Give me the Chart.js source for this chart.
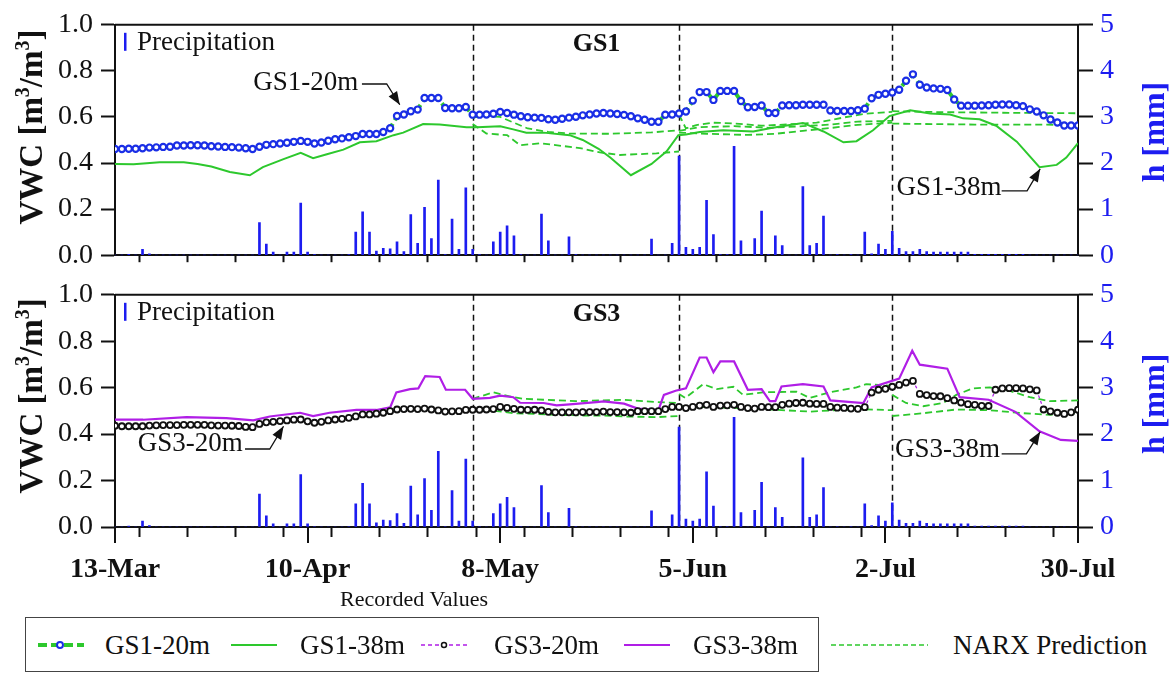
<!DOCTYPE html>
<html>
<head>
<meta charset="utf-8">
<script src="https://cdn.jsdelivr.net/npm/chart.js@4.4.0/dist/chart.umd.min.js"></script>
<style>
  body { margin: 0; background: #fff; }
  #wrap { position: relative; width: 1175px; height: 673px; overflow: hidden; font-family: "Liberation Serif", "Times New Roman", serif; color: #111; }
  canvas { position: absolute; left: 0; }
  #topChart { top: 0; }
  #bottomChart { top: 270px; }
  #recorded { position: absolute; left: 340px; top: 586px; font-size: 22px; line-height: 26px; }
  .legend-box { position: absolute; left: 25px; top: 617px; width: 794px; height: 55px; border: 1.5px solid #444; box-sizing: border-box; }
  .lg { position: absolute; top: 629px; font-size: 27px; line-height: 32px; white-space: nowrap; }
  .sw { position: absolute; top: 636px; }
  .pre { position: absolute; left: -200px; top: 0; }
  .pre b { font-weight: bold; }
</style>
</head>
<body>
<div id="wrap">
  <canvas id="topChart" width="1175" height="280"></canvas>
  <canvas id="bottomChart" width="1175" height="340"></canvas>
  <div id="recorded">Recorded Values</div>
  <div class="legend-box"></div>
  <svg class="sw" style="left:38px" width="46" height="18"><line x1="0" y1="9" x2="46" y2="9" stroke="#2dc82d" stroke-width="4" stroke-dasharray="9 4"/><circle cx="22" cy="9" r="3" fill="#fff" stroke="#1a2ee6" stroke-width="2"/></svg>
  <div class="lg" style="left:105px">GS1-20m</div>
  <svg class="sw" style="left:231px" width="46" height="18"><line x1="0" y1="9" x2="46" y2="9" stroke="#2dc82d" stroke-width="2"/></svg>
  <div class="lg" style="left:300px">GS1-38m</div>
  <svg class="sw" style="left:421px" width="46" height="18"><line x1="0" y1="9" x2="46" y2="9" stroke="#b01ee6" stroke-width="1.5" stroke-dasharray="4 3"/><circle cx="23" cy="9" r="2.5" fill="#fff" stroke="#111" stroke-width="1.5"/></svg>
  <div class="lg" style="left:494px">GS3-20m</div>
  <svg class="sw" style="left:624px" width="46" height="18"><line x1="0" y1="9" x2="46" y2="9" stroke="#b01ee6" stroke-width="2"/></svg>
  <div class="lg" style="left:693px">GS3-38m</div>
  <svg class="sw" style="left:831px" width="97" height="18"><line x1="0" y1="9" x2="97" y2="9" stroke="#2dc82d" stroke-width="1.5" stroke-dasharray="5 3"/></svg>
  <div class="lg" style="left:953px">NARX Prediction</div>
  <div class="pre">0 <b>0</b></div>
</div>
<script>
// x values are days after 13-Mar; dates shown every 28 days
const dateLabels = ['13-Mar', '10-Apr', '8-May', '5-Jun', '2-Jul', '30-Jul'];
const periodBreaks = [52, 82, 113];

// daily precipitation h [mm], same record under both panels
const precip = [
  0, 0, 0.02, 0, 0.125, 0.03, 0,
  0, 0, 0, 0, 0, 0, 0,
  0, 0, 0, 0, 0, 0, 0,
  0.71, 0.24, 0.07, 0, 0.07, 0.07, 1.13,
  0.07, 0.01, 0, 0, 0, 0, 0.01,
  0.5, 0.94, 0.5, 0.09, 0.15, 0.14, 0.29,
  0.08, 0.88, 0.26, 1.04, 0.36, 1.63, 0.01,
  0.785, 0.125, 1.46, 0.125, 0.01, 0, 0.29,
  0.5, 0.64, 0.42, 0.01, 0, 0, 0.89,
  0.31, 0, 0, 0.4, 0.01, 0, 0,
  0, 0, 0, 0, 0, 0, 0,
  0, 0.35, 0, 0, 0.26, 2.15, 0.17,
  0.125, 0.17, 1.19, 0.45, 0.01, 0.01, 2.36,
  0.31, 0, 0.36, 0.96, 0.01, 0.42, 0.21,
  0, 0, 1.49, 0.21, 0.26, 0.85, 0,
  0.01, 0, 0.01, 0, 0.5, 0.03, 0.24,
  0.125, 0.52, 0.15, 0.08, 0.08, 0.125, 0.08,
  0.07, 0.07, 0.07, 0.07, 0.07, 0.07, 0.02,
  0.02, 0.02, 0.02, 0.02, 0.02, 0.02, 0.02,
  0, 0, 0, 0, 0, 0, 0,
  0
];

// GS1-20m daily VWC
const gs1Shallow = [
  0.461, 0.461, 0.462, 0.462, 0.464, 0.467, 0.468,
  0.470, 0.471, 0.476, 0.476, 0.477, 0.477, 0.476,
  0.473, 0.472, 0.470, 0.469, 0.467, 0.464, 0.461,
  0.471, 0.479, 0.482, 0.485, 0.488, 0.492, 0.496,
  0.492, 0.485, 0.489, 0.497, 0.503, 0.507, 0.512,
  0.517, 0.526, 0.526, 0.526, 0.535, 0.551, 0.604,
  0.611, 0.625, 0.632, 0.682, 0.682, 0.682, 0.639,
  0.638, 0.638, 0.643, 0.610, 0.610, 0.611, 0.614,
  0.622, 0.617, 0.610, 0.603, 0.599, 0.597, 0.596,
  0.590, 0.588, 0.592, 0.597, 0.601, 0.607, 0.611,
  0.615, 0.617, 0.615, 0.613, 0.609, 0.603, 0.594,
  0.588, 0.579, 0.579, 0.610, 0.611, 0.615, 0.624,
  0.671, 0.708, 0.708, 0.674, 0.713, 0.713, 0.713,
  0.669, 0.642, 0.643, 0.650, 0.617, 0.617, 0.650,
  0.651, 0.651, 0.653, 0.653, 0.653, 0.653, 0.628,
  0.626, 0.626, 0.626, 0.629, 0.636, 0.681, 0.696,
  0.701, 0.706, 0.718, 0.757, 0.785, 0.740, 0.728,
  0.724, 0.722, 0.717, 0.676, 0.649, 0.649, 0.649,
  0.650, 0.651, 0.653, 0.654, 0.654, 0.651, 0.647,
  0.633, 0.624, 0.607, 0.589, 0.576, 0.563, 0.563,
  0.563
];

// GS3-20m daily VWC
const gs3Shallow = [
  0.436, 0.434, 0.434, 0.434, 0.434, 0.437, 0.438,
  0.439, 0.439, 0.439, 0.440, 0.440, 0.440, 0.440,
  0.438, 0.437, 0.437, 0.436, 0.435, 0.431, 0.430,
  0.444, 0.451, 0.453, 0.456, 0.459, 0.462, 0.463,
  0.455, 0.449, 0.453, 0.459, 0.463, 0.466, 0.470,
  0.476, 0.485, 0.485, 0.488, 0.492, 0.499, 0.506,
  0.508, 0.509, 0.508, 0.510, 0.506, 0.502, 0.497,
  0.498, 0.499, 0.504, 0.505, 0.505, 0.506, 0.508,
  0.517, 0.513, 0.509, 0.505, 0.504, 0.505, 0.502,
  0.496, 0.494, 0.494, 0.494, 0.494, 0.495, 0.495,
  0.495, 0.497, 0.495, 0.495, 0.494, 0.492, 0.499,
  0.499, 0.499, 0.499, 0.508, 0.517, 0.517, 0.512,
  0.517, 0.523, 0.526, 0.517, 0.523, 0.524, 0.526,
  0.517, 0.512, 0.510, 0.517, 0.516, 0.516, 0.526,
  0.531, 0.534, 0.535, 0.531, 0.530, 0.530, 0.517,
  0.514, 0.513, 0.510, 0.509, 0.516, 0.579, 0.591,
  0.595, 0.604, 0.612, 0.622, 0.629, 0.573, 0.568,
  0.564, 0.563, 0.555, 0.545, 0.536, 0.529, 0.526,
  0.522, 0.521, 0.591, 0.597, 0.598, 0.598, 0.597,
  0.593, 0.588, 0.506, 0.498, 0.492, 0.487, 0.494,
  0.505
];

// deep sensors, [day, VWC] at the line's turning points
const gs1Deep = [
  [0, 0.396], [2.7, 0.395], [6.5, 0.403], [10, 0.403], [12, 0.396], [14, 0.385], [16.7, 0.361],
  [19.6, 0.347], [21.5, 0.382], [24.5, 0.417], [27, 0.444], [28.8, 0.421], [30.8, 0.438],
  [33.2, 0.458], [35.6, 0.49], [38, 0.495], [40.5, 0.521], [41.9, 0.532], [44.8, 0.569],
  [47.2, 0.567], [51.1, 0.555], [52.6, 0.555], [56, 0.56], [57.9, 0.546], [59.8, 0.532],
  [62.3, 0.532], [66.1, 0.521], [68, 0.5], [70.3, 0.462], [72, 0.424], [75, 0.347], [78, 0.396],
  [80.2, 0.451], [81.9, 0.521], [83, 0.524], [85, 0.535], [88.4, 0.542], [92.8, 0.537],
  [95.2, 0.551], [98.1, 0.565], [100, 0.574], [103, 0.537], [105.9, 0.49], [107.8, 0.495],
  [110.2, 0.542], [112.6, 0.604], [115.6, 0.629], [118.5, 0.615], [121.4, 0.611], [123.3, 0.594],
  [125.7, 0.59], [128.1, 0.562], [131.1, 0.493], [134.4, 0.382], [136.9, 0.392], [138.3, 0.424],
  [140, 0.486]
];
const gs3Deep = [
  [0, 0.462], [4.1, 0.462], [10.4, 0.473], [16.2, 0.469], [20.1, 0.459], [22.5, 0.476],
  [26.9, 0.492], [28.8, 0.478], [31.2, 0.492], [35.1, 0.504], [38, 0.504], [40, 0.515],
  [40.9, 0.58], [42.9, 0.594], [44.1, 0.597], [45.1, 0.65], [47.2, 0.646], [48.1, 0.591],
  [50.9, 0.591], [52, 0.552], [54.5, 0.556], [56, 0.566], [57.9, 0.559], [58.9, 0.535],
  [62.3, 0.534], [64.2, 0.524], [66.1, 0.528], [70, 0.538], [71, 0.541], [74, 0.531], [76, 0.51],
  [79, 0.503], [79.8, 0.569], [81.5, 0.587], [83, 0.597], [85, 0.73], [86, 0.73], [87, 0.667],
  [88, 0.713], [90, 0.713], [92, 0.591], [94, 0.594], [95.2, 0.542], [96, 0.542], [96.9, 0.605],
  [100, 0.615], [103, 0.605], [104, 0.545], [108.8, 0.534], [110, 0.601], [114, 0.639],
  [115.9, 0.759], [117, 0.699], [121, 0.682], [122.8, 0.559], [127, 0.548], [130.9, 0.496],
  [134.4, 0.412], [137.5, 0.375], [140, 0.371]
];

// NARX predictions, one line per forecast run
const gs1Narx = [
  [[52, 0.597], [54, 0.605], [56, 0.6], [58, 0.575], [60, 0.55], [63, 0.535], [66, 0.528], [72, 0.527], [78, 0.533], [82, 0.542]],
  [[52, 0.569], [54, 0.528], [57, 0.521], [58.9, 0.477], [61.8, 0.486], [63.7, 0.479], [67.6, 0.465], [70.5, 0.446], [73.4, 0.435], [78.7, 0.442], [82, 0.45]],
  [[82, 0.61], [83, 0.55], [84.5, 0.565], [87, 0.575], [90, 0.572], [94, 0.562], [98, 0.568], [102, 0.575], [106, 0.598], [109, 0.614], [113, 0.622]],
  [[82, 0.54], [85, 0.556], [90, 0.56], [95, 0.553], [100, 0.56], [104, 0.567], [108, 0.58], [113, 0.583]],
  [[82, 0.532], [86, 0.527], [92, 0.522], [96, 0.527], [100, 0.54], [104, 0.552], [108, 0.566], [113, 0.575]],
  [[113, 0.625], [120, 0.621], [130, 0.618], [140, 0.616]],
  [[113, 0.571], [125, 0.567], [140, 0.566]]
];
const gs3Narx = [
  [[52, 0.552], [55, 0.58], [57.5, 0.562], [59.4, 0.552], [62.3, 0.548], [67, 0.542], [70.5, 0.545], [74, 0.548], [78.7, 0.538], [82, 0.534]],
  [[52, 0.505], [55, 0.501], [58, 0.49], [61, 0.487], [64.5, 0.483], [68, 0.48], [71, 0.48], [74, 0.476], [78.7, 0.473], [82, 0.478]],
  [[82, 0.573], [82.9, 0.556], [85.5, 0.615], [87.5, 0.594], [89.9, 0.604], [91.3, 0.569], [94.2, 0.58], [99.1, 0.583], [101, 0.556], [103.9, 0.58], [107.8, 0.601], [109.2, 0.615], [113, 0.608]],
  [[82, 0.52], [88, 0.515], [94, 0.508], [101, 0.497], [108, 0.508], [113, 0.503]],
  [[113, 0.569], [115, 0.534], [117.5, 0.52], [120.4, 0.534], [122.3, 0.569], [124.7, 0.597], [127.2, 0.601], [130, 0.587], [133, 0.559], [135.9, 0.542], [140, 0.545]],
  [[113, 0.478], [117.5, 0.49], [122.3, 0.506], [127.2, 0.503], [132, 0.49], [135.9, 0.483], [140, 0.49]]
];

const GREEN = '#2dc82d';
const MAGENTA = '#b01ee6';
const BLUE = '#1c1cf0';
const SERIF = '"Liberation Serif", "Times New Roman", serif';

const daily = vals => vals.map((y, x) => ({ x, y }));
const toXY = pts => pts.map(([x, y]) => ({ x, y }));

function narxSets(segments) {
  return segments.map(seg => ({
    label: 'NARX Prediction', data: toXY(seg), borderColor: GREEN, borderWidth: 1.8,
    borderDash: [7, 4], pointRadius: 0, yAxisID: 'y'
  }));
}

function precipSet() {
  return {
    type: 'bar', label: 'Precipitation', data: daily(precip), yAxisID: 'yh',
    backgroundColor: BLUE, barThickness: 2, borderWidth: 0
  };
}

// rotated axis title drawn in pieces so the 3s sit as superscripts
function drawRotatedTitle(ctx, parts, baseX, centerY, size, color) {
  ctx.save();
  ctx.fillStyle = color;
  ctx.textBaseline = 'alphabetic';
  ctx.textAlign = 'left';
  const supSize = Math.round(size * 0.62);
  let total = 0;
  parts.forEach(p => {
    ctx.font = 'bold ' + (p.sup ? supSize : size) + 'px ' + SERIF;
    p.w = ctx.measureText(p.t).width;
    total += p.w;
  });
  ctx.translate(baseX, centerY);
  ctx.rotate(-Math.PI / 2);
  let cx = -total / 2;
  parts.forEach(p => {
    ctx.font = 'bold ' + (p.sup ? supSize : size) + 'px ' + SERIF;
    ctx.fillText(p.t, cx, p.sup ? -size * 0.38 : 0);
    cx += p.w;
  });
  ctx.restore();
}

// frame, period lines, in-plot key, panel title and callout arrows
const panelMarks = {
  id: 'panelMarks',
  beforeDatasetsDraw(chart) {
    const { ctx, chartArea: a, scales: { x } } = chart;
    ctx.save();
    ctx.strokeStyle = '#111';
    ctx.lineWidth = 1.5;
    ctx.setLineDash([6, 4]);
    periodBreaks.forEach(d => {
      const px = Math.round(x.getPixelForValue(d)) + 0.5;
      ctx.beginPath();
      ctx.moveTo(px, a.top);
      ctx.lineTo(px, a.bottom);
      ctx.stroke();
    });
    ctx.restore();
  },
  afterDraw(chart, args, opts) {
    const { ctx, chartArea: a, scales: { x, y } } = chart;
    const midY = (a.top + a.bottom) / 2;
    drawRotatedTitle(ctx, [{ t: 'VWC [m' }, { t: '3', sup: true }, { t: '/m' }, { t: '3', sup: true }, { t: ']' }],
      42, midY + opts.leftShift, 33, '#111');
    drawRotatedTitle(ctx, [{ t: 'h [mm]' }], 1164, midY + opts.rightShift, 32, BLUE);

    ctx.save();
    ctx.strokeStyle = '#111';
    ctx.fillStyle = '#111';
    ctx.lineWidth = 2;
    ctx.beginPath();
    ctx.moveTo(a.left, a.top);
    ctx.lineTo(a.right + 1, a.top);
    ctx.stroke();

    if (opts.longTicks) {
      for (let d = 0; d <= 140; d += 28) {
        const px = Math.round(x.getPixelForValue(d));
        ctx.beginPath();
        ctx.moveTo(px, a.bottom);
        ctx.lineTo(px, a.bottom + 16);
        ctx.stroke();
      }
    }

    // precipitation key
    ctx.fillStyle = BLUE;
    ctx.fillRect(a.left + 9, a.top + 8, 2.5, 18);
    ctx.fillStyle = '#111';
    ctx.font = '27px ' + SERIF;
    ctx.textBaseline = 'middle';
    ctx.textAlign = 'left';
    ctx.fillText('Precipitation', a.left + 22, a.top + 18);

    ctx.font = 'bold 26px ' + SERIF;
    ctx.textAlign = 'center';
    ctx.fillText(opts.title, x.getPixelForValue(70), a.top + 19);

    ctx.font = '27px ' + SERIF;
    ctx.textAlign = 'left';
    ctx.lineWidth = 1.3;
    opts.callouts.forEach(c => {
      ctx.fillText(c.text, x.getPixelForValue(c.at[0]), y.getPixelForValue(c.at[1]));
      const pts = c.path.map(([d, v]) => [x.getPixelForValue(d), y.getPixelForValue(v)]);
      ctx.beginPath();
      ctx.moveTo(pts[0][0], pts[0][1]);
      for (let i = 1; i < pts.length; i++) ctx.lineTo(pts[i][0], pts[i][1]);
      ctx.stroke();
      const [tx, ty] = pts[pts.length - 1];
      const [fx, fy] = pts[pts.length - 2];
      const ang = Math.atan2(ty - fy, tx - fx);
      ctx.beginPath();
      ctx.moveTo(tx, ty);
      ctx.lineTo(tx - 13 * Math.cos(ang) + 5 * Math.sin(ang), ty - 13 * Math.sin(ang) - 5 * Math.cos(ang));
      ctx.lineTo(tx - 13 * Math.cos(ang) - 5 * Math.sin(ang), ty - 13 * Math.sin(ang) + 5 * Math.cos(ang));
      ctx.closePath();
      ctx.fill();
    });
    ctx.restore();
  }
};

function makeScales(showDates, xHeight) {
  return {
    x: {
      type: 'linear', min: 0, max: 140, offset: false,
      afterFit: s => { s.height = xHeight; },
      grid: { drawOnChartArea: false, drawTicks: true, tickLength: showDates ? 10 : 7, tickWidth: 2, tickColor: '#111' },
      border: { display: true, color: '#111', width: 2 },
      ticks: {
        display: showDates, stepSize: 7, autoSkip: false, maxRotation: 0, padding: 16,
        color: '#111', font: { family: SERIF, size: 28, weight: 'bold' },
        callback: v => (v % 28 === 0 ? dateLabels[v / 28] : '')
      }
    },
    y: {
      position: 'left', min: 0, max: 1,
      afterFit: s => { s.width = 115; },
      grid: { drawOnChartArea: false, tickLength: 14, tickWidth: 2, tickColor: '#111' },
      border: { display: true, color: '#111', width: 2 },
      ticks: { stepSize: 0.2, padding: 8, color: '#111', font: { family: SERIF, size: 28 }, callback: v => v.toFixed(1) }
    },
    yh: {
      position: 'right', min: 0, max: 5,
      afterFit: s => { s.width = 97; },
      grid: { drawOnChartArea: false, tickLength: 15, tickWidth: 2, tickColor: '#111' },
      border: { display: true, color: '#111', width: 2 },
      ticks: { stepSize: 1, padding: 7, color: BLUE, font: { family: SERIF, size: 28 } }
    }
  };
}

function drawCharts() {
  new Chart(document.getElementById('topChart'), {
    type: 'line',
    data: {
      datasets: [
        {
          label: 'GS1-20m', data: daily(gs1Shallow), yAxisID: 'y',
          borderColor: GREEN, borderWidth: 4, borderDash: [8, 4],
          pointRadius: 3.1, pointBorderWidth: 2.2, pointBorderColor: '#1a2ee6', pointBackgroundColor: '#fff'
        },
        { label: 'GS1-38m', data: toXY(gs1Deep), yAxisID: 'y', borderColor: GREEN, borderWidth: 2, pointRadius: 0 },
        ...narxSets(gs1Narx),
        precipSet()
      ]
    },
    options: {
      responsive: false, animation: false, devicePixelRatio: 1,
      layout: { padding: { top: 20, left: 0, right: 0, bottom: 0 } },
      scales: makeScales(false, 20),
      plugins: {
        legend: { display: false }, tooltip: { enabled: false },
        panelMarks: {
          title: 'GS1', longTicks: false, leftShift: -13, rightShift: -8,
          callouts: [
            { text: 'GS1-20m', at: [20.1, 0.746], path: [[35.9, 0.743], [39.5, 0.743], [41.4, 0.653]] },
            { text: 'GS1-38m', at: [113.6, 0.292], path: [[128.9, 0.279], [132.6, 0.279], [134.5, 0.375]] }
          ]
        }
      }
    },
    plugins: [panelMarks]
  });

  new Chart(document.getElementById('bottomChart'), {
    type: 'line',
    data: {
      datasets: [
        {
          label: 'GS3-20m', data: daily(gs3Shallow), yAxisID: 'y',
          borderColor: MAGENTA, borderWidth: 1.2, borderDash: [3, 3],
          pointRadius: 3, pointBorderWidth: 1.8, pointBorderColor: '#111', pointBackgroundColor: '#fff'
        },
        { label: 'GS3-38m', data: toXY(gs3Deep), yAxisID: 'y', borderColor: MAGENTA, borderWidth: 2.2, pointRadius: 0 },
        ...narxSets(gs3Narx),
        precipSet()
      ]
    },
    options: {
      responsive: false, animation: false, devicePixelRatio: 1,
      layout: { padding: { top: 18, left: 0, right: 0, bottom: 0 } },
      scales: makeScales(true, 83),
      plugins: {
        legend: { display: false }, tooltip: { enabled: false },
        panelMarks: {
          title: 'GS3', longTicks: true, leftShift: -15, rightShift: -7,
          callouts: [
            { text: 'GS3-20m', at: [3.3, 0.36], path: [[18.9, 0.336], [22.5, 0.336], [24.5, 0.434]] },
            { text: 'GS3-38m', at: [113.4, 0.331], path: [[128.9, 0.315], [132.5, 0.315], [134.5, 0.41]] }
          ]
        }
      }
    },
    plugins: [panelMarks]
  });
}

// make sure the serif faces are ready before the canvases use them
Promise.all([
  document.fonts.load('27px "Liberation Serif"'),
  document.fonts.load('bold 27px "Liberation Serif"')
]).then(drawCharts, drawCharts);
</script>
</body>
</html>
